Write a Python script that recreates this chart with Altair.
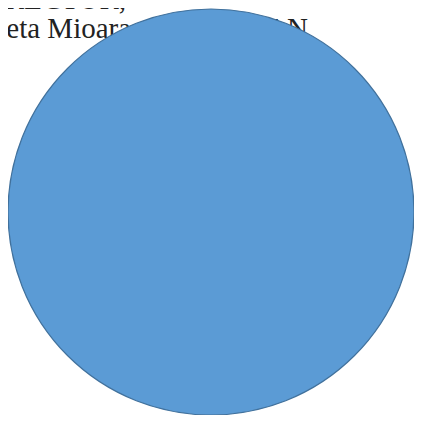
import altair as alt
import pandas as pd

categories = ["Total"]
values = [100]

line1 = ["DIRECTOR,"]
line2_left = ["Violeta Mioara"]
line2_right = ["IVAN"]

df = pd.DataFrame({"category": categories, "value": values})

pie = alt.Chart(df).mark_arc(
    outerRadius=203, fill="#5B9BD5", stroke="#41719C", strokeWidth=1.2
).encode(
    theta=alt.Theta("value:Q", stack=True),
    x=alt.value(203),
    y=alt.value(204),
)

txt_style = dict(font="Liberation Serif", fontSize=29, color="#222222", baseline="alphabetic")

t1 = alt.Chart(pd.DataFrame({"t": line1})).mark_text(align="right", **txt_style).encode(
    text="t:N", x=alt.value(118), y=alt.value(0.5)
)
t2 = alt.Chart(pd.DataFrame({"t": line2_left})).mark_text(align="left", **txt_style).encode(
    text="t:N", x=alt.value(-51.5), y=alt.value(30)
)
t3 = alt.Chart(pd.DataFrame({"t": line2_right})).mark_text(align="right", **txt_style).encode(
    text="t:N", x=alt.value(300), y=alt.value(30)
)

chart = alt.layer(t1, t2, t3, pie).properties(
    width=406, height=407, padding=0, autosize=alt.AutoSizeParams(type="none")
).configure_view(stroke=None)

chart.save("out.html", embed_options={"renderer": "svg", "actions": False})
